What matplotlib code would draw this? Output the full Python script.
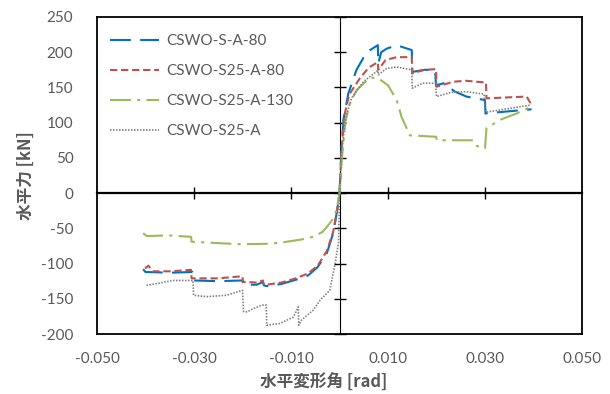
import matplotlib
matplotlib.use("Agg")
import matplotlib.pyplot as plt

plt.rcParams['font.family'] = ['Lato', 'DejaVu Sans']
plt.rcParams['axes.unicode_minus'] = False

# 水平変形角 [rad] / 水平力 [kN]
blue_x = [-0.0405, -0.0400, -0.0350, -0.0303, -0.0302, -0.0250, -0.0200, -0.0199, -0.0170,
          -0.0158, -0.0156, -0.0150, -0.0120, -0.0090, -0.0065, -0.0045, -0.0026, -0.0013,
          -0.0005, 0.0, 0.0004, 0.0008, 0.0018, 0.0035, 0.0056, 0.0079, 0.0080, 0.0086,
          0.0097, 0.0118, 0.0140, 0.0149, 0.0150, 0.0175, 0.0197, 0.0199, 0.0215, 0.0238,
          0.0262, 0.0300, 0.0301, 0.0331, 0.0396]
blue_y = [-108, -112, -113, -112, -124, -125, -124, -130, -130,
          -126, -131, -132, -129, -123, -117, -105, -85, -57,
          -25, 0, 60, 104, 141, 175, 200, 210, 184, 200,
          205, 210, 205, 203, 172, 175, 175, 153, 156, 144,
          137, 132, 113, 115, 119]

red_x = [-0.0401, -0.0394, -0.0385, -0.0350, -0.0306, -0.0305, -0.0250, -0.0200, -0.0199,
         -0.0170, -0.0158, -0.0156, -0.0150, -0.0120, -0.0090, -0.0065, -0.0045, -0.0026,
         -0.0013, -0.0005, 0.0, 0.0004, 0.0010, 0.0020, 0.0042, 0.0060, 0.0079, 0.0080,
         0.0095, 0.0118, 0.0149, 0.0150, 0.0175, 0.0199, 0.0200, 0.0234, 0.0260, 0.0302,
         0.0303, 0.0350, 0.0386, 0.0396]
red_y = [-107, -103, -111, -111, -109, -121, -121, -118, -126,
         -127, -124, -130, -130, -127, -121, -114, -103, -82,
         -55, -24, 0, 60, 110, 140, 163, 178, 186, 175,
         189, 193, 193, 170, 175, 176, 151, 158, 159.5, 157,
         134.5, 136, 137, 125]

green_x = [-0.0405, -0.0397, -0.0356, -0.0306, -0.0305, -0.0250, -0.0205, -0.0150, -0.0123,
           -0.0080, -0.0054, -0.0035, -0.0026, -0.0015, -0.0006, 0.0, 0.0005, 0.0012,
           0.0020, 0.0035, 0.0063, 0.0080, 0.0100, 0.0118, 0.0128, 0.0145, 0.0199, 0.0201,
           0.0276, 0.0283, 0.0300, 0.0303, 0.0331, 0.0365, 0.0396]
green_y = [-57, -61, -60, -62, -69, -71, -72.5, -72, -70.5,
           -66, -62, -55, -48, -38, -24, 0, 50, 100,
           125, 146, 164, 163, 153, 132, 108, 82, 80, 75,
           75, 67, 63.5, 92, 104, 113, 123]

gray_x = [-0.0398, -0.0343, -0.0302, -0.0301, -0.0274, -0.0233, -0.0200, -0.0198, -0.0190,
          -0.0178, -0.0160, -0.0151, -0.0150, -0.0123, -0.0095, -0.0085, -0.0084, -0.0078,
          -0.0054, -0.0040, -0.0020, -0.0009, -0.0002, 0.0, 0.0005, 0.0012, 0.0025, 0.0049,
          0.0079, 0.0080, 0.0097, 0.0118, 0.0149, 0.0150, 0.0172, 0.0198, 0.0200, 0.0230,
          0.0262, 0.0298, 0.0300, 0.0303, 0.0330, 0.0395]
gray_y = [-131, -124, -124, -145, -147, -145, -138, -168, -168.5,
          -164, -159, -159, -187.5, -185, -176, -161.5, -187.5, -180,
          -166, -152, -138, -100, -70, 0, 60, 105, 135, 158,
          174, 168, 177, 179, 175, 149, 156, 156, 137, 143,
          144, 140.5, 120, 115, 118, 125]

labels = ['CSWO-S-A-80', 'CSWO-S25-A-80', 'CSWO-S25-A-130', 'CSWO-S25-A']

fig = plt.figure(figsize=(6.1, 3.94), dpi=100)
ax = fig.add_axes([97/610, 1 - 334/394, 485/610, 317/394])

ax.plot(blue_x, blue_y, color='#0070C0', lw=1.5, dashes=(10, 4.5), label=labels[0])
ax.plot(red_x, red_y, color='#C0504D', lw=1.5, dashes=(3.5, 1.8), label=labels[1])
ax.plot(green_x, green_y, color='#9BBB59', lw=1.5, dashes=(10, 3, 1.5, 3), label=labels[2])
ax.plot(gray_x, gray_y, color='#7F7F7F', lw=1.2, dashes=(0.9, 0.9), label=labels[3])

ax.set_xlim(-0.05, 0.05)
ax.set_ylim(-200, 250)
ax.set_xticks([-0.05, -0.03, -0.01, 0.01, 0.03, 0.05])
ax.set_yticks(range(-200, 251, 50))
ax.set_xticklabels(['-0.050', '-0.030', '-0.010', '0.010', '0.030', '0.050'])
ax.tick_params(length=0, labelsize=11, labelcolor='#595959')
ax.tick_params(axis='y', pad=17)
ax.tick_params(axis='x', pad=13)
for s in ax.spines.values():
    s.set_linewidth(1.3)
    s.set_color('black')

# axes crossing at zero
sy = ax.secondary_yaxis(0.5)
sy.set_yticks(range(-200, 251, 50))
sy.set_yticklabels([])
sy.tick_params(direction='inout', length=8.5, width=1)
sy.spines['left'].set_linewidth(1.6)
sx = ax.secondary_xaxis(200/450)
sx.set_xticks([-0.03, -0.01, 0.01, 0.03])
sx.set_xticklabels([])
sx.tick_params(direction='inout', length=8.5, width=1)
sx.spines['bottom'].set_linewidth(1.6)

jp = ['Noto Sans CJK JP', 'DejaVu Sans']
ax.set_xlabel('水平変形角 [rad]', family=jp, fontsize=12, fontweight='bold', color='#595959')
ax.set_ylabel('水平力 [kN]', family=jp, fontsize=12, fontweight='bold', color='#595959')
ax.xaxis.set_label_coords((324 - 97)/485, -(374 - 334)/317)
ax.yaxis.set_label_coords(-(97 - 35)/485, 0.5)

ax.legend(loc='upper left', bbox_to_anchor=(0.027, 0.946), frameon=False, fontsize=11,
          handlelength=3.2, handletextpad=0.5, labelspacing=1.05, borderpad=0,
          borderaxespad=0, labelcolor='#595959')

fig.savefig('out.png', dpi=100)
